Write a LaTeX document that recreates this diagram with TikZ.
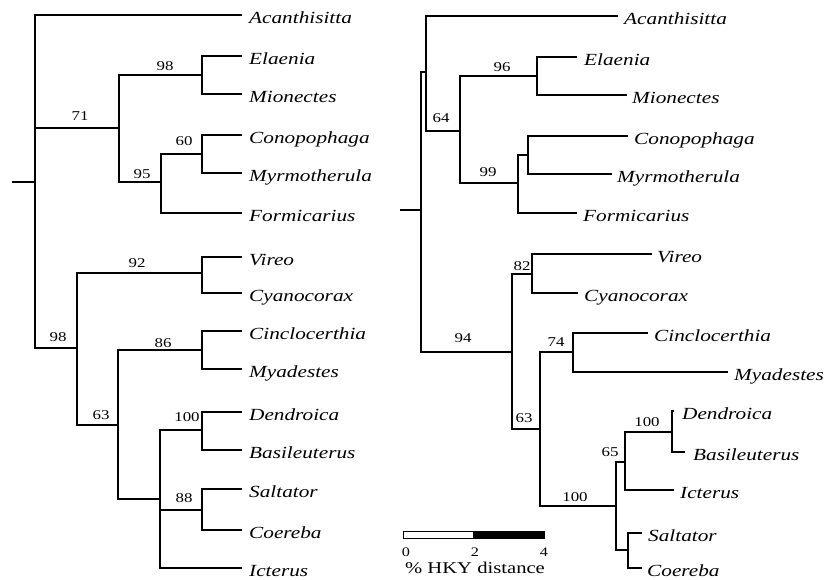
\documentclass[tikz,border=0pt]{standalone}
\usepackage{fontspec}
\setmainfont{Liberation Serif}
\newcommand\wide[1]{\scalebox{1.25}[1]{#1}}
\begin{document}
\begin{tikzpicture}[x=1pt,y=-1pt,
  br/.style={line width=1.4pt},
  leaf/.style={anchor=base west, inner sep=0pt, font=\fontsize{17}{17}\selectfont\itshape},
  boot/.style={inner sep=0pt, font=\fontsize{13.5}{13.5}\selectfont},
  scalelab/.style={inner sep=0pt, font=\fontsize{13}{13}\selectfont},
  caption/.style={inner sep=0pt, font=\fontsize{16.5}{16.5}\selectfont}]
\useasboundingbox (0,0) rectangle (825,580);

% ---------------- left tree ----------------
\coordinate (Ls) at (12,182);
\coordinate (L0) at (35,182);
\coordinate (L71) at (119,128);
\coordinate (L98a) at (202,75);
\coordinate (L95) at (161,182);
\coordinate (L60) at (202,154);
\coordinate (L98b) at (77,348);
\coordinate (L92) at (202,273);
\coordinate (L63) at (118,425);
\coordinate (L86) at (202,350);
\coordinate (Llow) at (160,499);
\coordinate (L100) at (202,430);
\coordinate (L88) at (202,510);
% leaves
\coordinate (LAca) at (242,15);
\coordinate (LEla) at (242,56);
\coordinate (LMio) at (242,94);
\coordinate (LCon) at (242,135);
\coordinate (LMyr) at (242,173);
\coordinate (LFor) at (242,213);
\coordinate (LVir) at (242,257);
\coordinate (LCya) at (242,293);
\coordinate (LCin) at (242,331);
\coordinate (LMya) at (242,369);
\coordinate (LDen) at (242,412);
\coordinate (LBas) at (242,450);
\coordinate (LSal) at (242,489);
\coordinate (LCoe) at (242,530);
\coordinate (LIct) at (242,568);

\draw[br] (Ls) -- (L0);
\draw[br] (L0) |- (LAca);
\draw[br] (L0) |- (L71);
\draw[br] (L0) |- (L98b);
\draw[br] (L71) |- (L98a);
\draw[br] (L71) |- (L95);
\draw[br] (L98a) |- (LEla);
\draw[br] (L98a) |- (LMio);
\draw[br] (L95) |- (L60);
\draw[br] (L95) |- (LFor);
\draw[br] (L60) |- (LCon);
\draw[br] (L60) |- (LMyr);
\draw[br] (L98b) |- (L92);
\draw[br] (L98b) |- (L63);
\draw[br] (L92) |- (LVir);
\draw[br] (L92) |- (LCya);
\draw[br] (L63) |- (L86);
\draw[br] (L63) |- (Llow);
\draw[br] (L86) |- (LCin);
\draw[br] (L86) |- (LMya);
\draw[br] (Llow) |- (L100);
\draw[br] (Llow) |- (L88);
\draw[br] (Llow) |- (LIct);
\draw[br] (L100) |- (LDen);
\draw[br] (L100) |- (LBas);
\draw[br] (L88) |- (LSal);
\draw[br] (L88) |- (LCoe);

\foreach \c/\t in {LAca/Acanthisitta, LEla/Elaenia, LMio/Mionectes, LCon/Conopophaga,
  LMyr/Myrmotherula, LFor/Formicarius, LVir/Vireo, LCya/Cyanocorax, LCin/Cinclocerthia,
  LMya/Myadestes, LDen/Dendroica, LBas/Basileuterus, LSal/Saltator, LCoe/Coereba, LIct/Icterus}
  \node[leaf] (t\c) at ([xshift=7pt,yshift=-8.5pt]\c) {\wide{\t}};

\node[boot] (bL71) at (80,116) {\wide{71}};
\node[boot] (bL98a) at (165,66) {\wide{98}};
\node[boot] (bL60) at (184,141) {\wide{60}};
\node[boot] (bL95) at (142,174) {\wide{95}};
\node[boot] (bL92) at (137,263) {\wide{92}};
\node[boot] (bL98b) at (58,337) {\wide{98}};
\node[boot] (bL63) at (101,415) {\wide{63}};
\node[boot] (bL86) at (163,343) {\wide{86}};
\node[boot] (bL100) at (187,417) {\wide{100}};
\node[boot] (bL88) at (184,498) {\wide{88}};

% ---------------- right tree ----------------
\coordinate (Rs) at (400,210);
\coordinate (R0) at (421,210);
\coordinate (RA) at (426,72);
\coordinate (R64) at (460,131);
\coordinate (R96) at (537,76);
\coordinate (R99) at (518,183);
\coordinate (RC) at (528,155);
\coordinate (R94) at (512,352);
\coordinate (R82) at (532,274);
\coordinate (R63) at (540,429);
\coordinate (R74) at (573,352);
\coordinate (R100) at (616,506);
\coordinate (R65) at (625,462);
\coordinate (R100s) at (672,432);
\coordinate (RSC) at (628,550);
% leaves
\coordinate (RAca) at (618,16);
\coordinate (REla) at (577,57);
\coordinate (RMio) at (627,95);
\coordinate (RCon) at (628,136);
\coordinate (RMyr) at (612,174);
\coordinate (RFor) at (577,213);
\coordinate (RVir) at (652,254);
\coordinate (RCya) at (578,293);
\coordinate (RCin) at (648,333);
\coordinate (RMya) at (728,372);
\coordinate (RDen) at (674,411);
\coordinate (RBas) at (685,452);
\coordinate (RIct) at (674,490);
\coordinate (RSal) at (642,533);
\coordinate (RCoe) at (642,568);

\draw[br] (Rs) -- (R0);
\draw[br] (R0) |- (RA);
\draw[br] (R0) |- (R94);
\draw[br] (RA) |- (RAca);
\draw[br] (RA) |- (R64);
\draw[br] (R64) |- (R96);
\draw[br] (R64) |- (R99);
\draw[br] (R96) |- (REla);
\draw[br] (R96) |- (RMio);
\draw[br] (R99) |- (RC);
\draw[br] (R99) |- (RFor);
\draw[br] (RC) |- (RCon);
\draw[br] (RC) |- (RMyr);
\draw[br] (R94) |- (R82);
\draw[br] (R94) |- (R63);
\draw[br] (R82) |- (RVir);
\draw[br] (R82) |- (RCya);
\draw[br] (R63) |- (R74);
\draw[br] (R63) |- (R100);
\draw[br] (R74) |- (RCin);
\draw[br] (R74) |- (RMya);
\draw[br] (R100) |- (R65);
\draw[br] (R100) |- (RSC);
\draw[br] (R65) |- (R100s);
\draw[br] (R65) |- (RIct);
\draw[br] (R100s) |- (RDen);
\draw[br] (R100s) |- (RBas);
\draw[br] (RSC) |- (RSal);
\draw[br] (RSC) |- (RCoe);

\foreach \c/\t/\g in {RAca/Acanthisitta/6, REla/Elaenia/7, RMio/Mionectes/5, RCon/Conopophaga/6,
  RMyr/Myrmotherula/5, RFor/Formicarius/6, RVir/Vireo/5, RCya/Cyanocorax/6, RCin/Cinclocerthia/6,
  RMya/Myadestes/6, RDen/Dendroica/8, RBas/Basileuterus/8, RIct/Icterus/6, RSal/Saltator/6, RCoe/Coereba/5}
  \node[leaf] (t\c) at ([xshift=\g pt,yshift=-8.5pt]\c) {\wide{\t}};

\node[boot] (bR96) at (502,67) {\wide{96}};
\node[boot] (bR64) at (441,118) {\wide{64}};
\node[boot] (bR99) at (488,172) {\wide{99}};
\node[boot] (bR82) at (522,266) {\wide{82}};
\node[boot] (bR94) at (463,338) {\wide{94}};
\node[boot] (bR74) at (556,342) {\wide{74}};
\node[boot] (bR63) at (524,418) {\wide{63}};
\node[boot] (bR100) at (575,497) {\wide{100}};
\node[boot] (bR65) at (610,452) {\wide{65}};
\node[boot] (bR100s) at (647,422) {\wide{100}};

% ---------------- scale bar ----------------
\draw[line width=1pt, fill=white] (403,531) rectangle (473,538);
\draw[line width=1pt, fill=black] (473,531) rectangle (544,538);
\node[scalelab] (s0) at (406,552) {\wide{0}};
\node[scalelab] (s2) at (475,552) {\wide{2}};
\node[scalelab] (s4) at (544,552) {\wide{4}};
\node[caption] (cap) at (475,568) {\wide{\% HKY distance}};
\end{tikzpicture}
\end{document}
